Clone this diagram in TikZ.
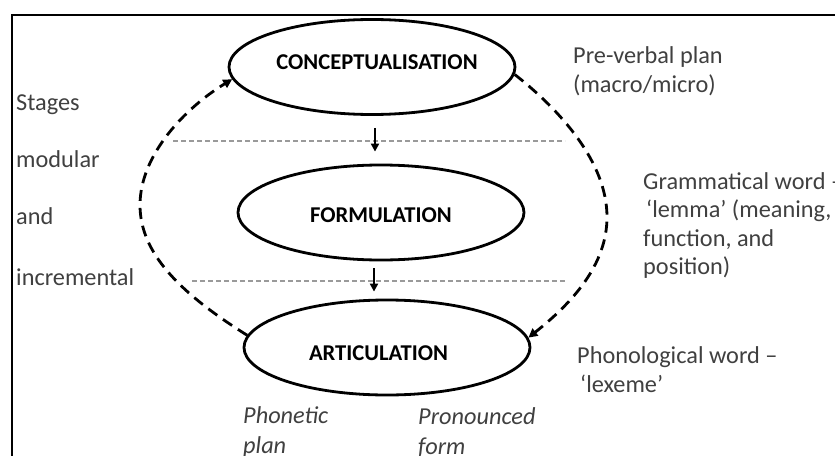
\documentclass[tikz,border=0pt]{standalone}
\usepackage{fontspec}
\setmainfont{Carlito}
\usetikzlibrary{shapes.geometric,arrows.meta}
\definecolor{txtgray}{HTML}{404040}
\definecolor{sepgray}{HTML}{9A9A9A}
\tikzset{
  stage/.style={ellipse,draw=black,line width=2.8pt,minimum width=286pt,minimum height=95pt,inner sep=0pt},
  stagetxt/.style={inner sep=0pt,font=\fontsize{22.6}{26}\selectfont\bfseries,text=black},
  side/.style={inner sep=0pt,font=\fontsize{24.3}{29.5}\selectfont,text=txtgray,align=left},
  sideit/.style={side,font=\fontsize{24.3}{30}\selectfont\itshape},
  feedback/.style={line width=2.8pt,dash pattern=on 11pt off 7pt,-{Triangle[length=9pt,width=9pt]}},
  down/.style={line width=2.4pt,-{Triangle[length=8pt,width=8pt]}},
  sep/.style={sepgray,line width=1.1pt,dash pattern=on 5pt off 3pt},
}
\begin{document}
\begin{tikzpicture}[x=1pt,y=-1pt]
\useasboundingbox (0,0) rectangle (835,455);
\fill[white] (0,0) rectangle (835,455);
% frame (cropped at right and bottom)
\draw[line width=1.8pt] (12,456) -- (12,15) -- (836,15);
% stages
\node[stage] (concept) at (372,67) {};
\node[stage] (form) at (381,212.5) {};
\node[stage] (art) at (387,347.5) {};
\node[stagetxt] (tconcept) at (377,62) {CONCEPTUALISATION};
\node[stagetxt] (tform) at (381,215) {FORMULATION};
\node[stagetxt] (tart) at (378.5,353) {ARTICULATION};
% separators
\coordinate (s1a) at (173,141);
\coordinate (s1b) at (565,141);
\coordinate (s2a) at (192,281);
\coordinate (s2b) at (565,281);
\draw[sep] (s1a) -- (s1b);
\draw[sep] (s2a) -- (s2b);
% downward arrows
\coordinate (ax1) at (375,0);
\coordinate (ax2) at (374,0);
\draw[down,shorten <=12pt,shorten >=12pt] (concept.south -| ax1) -- (form.north -| ax1);
\draw[down,shorten <=7pt,shorten >=7pt] (form.south -| ax2) -- (art.north -| ax2);
% feedback loops
\draw[feedback] (art.175) .. controls (178,292) and (140,252) .. (140,205)
  .. controls (140,155) and (185,108) .. (concept.185);
\draw[feedback] (concept.-3) .. controls (560,110) and (607,162) .. (607,217)
  .. controls (607,265) and (572,303) .. (art.4);
% left labels
\node[side,anchor=base west] (l1) at (16,110) {Stages};
\node[side,anchor=base west] (l2) at (16,167) {modular};
\node[side,anchor=base west] (l3) at (16,224) {and};
\node[side,anchor=base west] (l4) at (16,285) {incremental};
% right labels
\node[side,anchor=north west] (r1) at (573,46) {Pre-verbal plan\\(macro/micro)};
\node[side,anchor=north west,font=\fontsize{24.3}{28.5}\selectfont] (r2) at (643,172) {Grammatical word –\\\hspace*{3pt}‘lemma’ (meaning,\\function, and\\position)};
\node[side,anchor=north west] (r3) at (577,346) {Phonological word –\\\hspace*{3pt}‘lexeme’};
% bottom labels
\node[sideit,anchor=north west] (b1) at (243,406) {Phonetic\\plan};
\node[sideit,anchor=north west] (b2) at (418,407) {Pronounced\\form};
\end{tikzpicture}
\end{document}
